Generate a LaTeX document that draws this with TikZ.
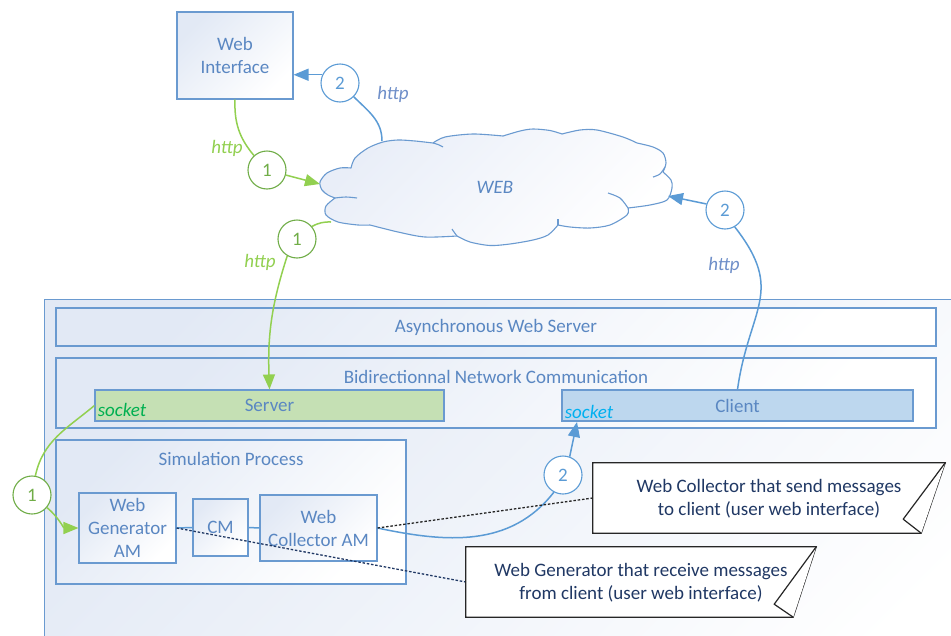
\documentclass[tikz,border=0pt]{standalone}
\usepackage{fontspec}
\setmainfont{Carlito}
\usetikzlibrary{arrows.meta,calc}
\definecolor{bord}{HTML}{6A9AD0}
\definecolor{gradc}{HTML}{E2E9F5}
\definecolor{gradl}{HTML}{E9EEF8}
\definecolor{txtb}{HTML}{5A87C2}
\definecolor{cB}{HTML}{5B9BD5}
\definecolor{cG}{HTML}{92D050}
\definecolor{cGc}{HTML}{70AD47}
\definecolor{cBl}{HTML}{6F8FC9}
\definecolor{srvc}{HTML}{C5E0B4}
\definecolor{clic}{HTML}{BDD7EE}
\definecolor{sockg}{HTML}{00B050}
\definecolor{sockb}{HTML}{00B0F0}
\definecolor{navy}{HTML}{203864}
\begin{document}
\begin{tikzpicture}[x=1pt,y=-1pt,
  every node/.style={font=\fontsize{19}{23}\selectfont},
  box/.style={draw=bord, line width=1.1pt, top color=gradc, bottom color=white, shading angle=45, inner sep=0pt, text=txtb, align=center},
  flat/.style={draw=bord, line width=1.1pt, inner sep=0pt, text=txtb},
  ttl/.style={text=txtb, inner sep=0pt},
  num/.style={circle, minimum size=38pt, inner sep=0pt, line width=1.1pt, fill=white},
  gnum/.style={num, draw=cGc, text=cGc},
  bnum/.style={num, draw=cB, text=cB},
  lab/.style={font=\fontsize{19}{23}\selectfont\itshape, inner sep=0pt},
  gl/.style={draw=cG, line width=1.5pt},
  bl/.style={draw=cB, line width=1.5pt},
  tip/.style={-{Triangle[length=15pt,width=12pt]}},
  cloudline/.style={draw=bord, line width=1.1pt, line join=round},
  callbox/.style={draw=black!85, line width=1.2pt, fill=white},
  calltext/.style={text=navy, align=center, inner sep=0pt}
]
\useasboundingbox (0,0) rectangle (951,635);
\clip (0,0) rectangle (951,635);
\fill[white] (0,0) rectangle (951,635);

% outer container
\node[box, minimum width=960, minimum height=420, anchor=north west] (outer) at (44,299) {};
\node[box, minimum width=880, minimum height=38] (async) at (496,327) {Asynchronous Web Server};
\node[box, minimum width=880, minimum height=70] (bidir) at (496,393) {};
\node[ttl] (bidirt) at (496,377) {Bidirectionnal Network Communication};
\node[flat, fill=srvc, minimum width=349, minimum height=31] (srv) at (269.5,405.5) {Server};
\node[flat, fill=clic, minimum width=351, minimum height=31] (cli) at (737.5,405.5) {Client};
\node[lab, text=sockg] (sk1) at (122,410) {socket};
\node[lab, text=sockb] (sk2) at (589,412) {socket};
\node[box, minimum width=350, minimum height=144] (sim) at (231,512) {};
\node[ttl] (simt) at (231,459) {Simulation Process};
\node[box, minimum width=97, minimum height=70] (gen) at (127.5,528) {Web\\Generator\\AM};
\node[box, minimum width=55, minimum height=57] (cm) at (220.5,527.5) {CM};
\node[box, minimum width=117, minimum height=66] (coll) at (318.5,528) {Web\\Collector AM};

% top
\node[box, minimum width=116, minimum height=87] (wi) at (235,55.5) {Web\\Interface};

% cloud
\path[cloudline, top color=gradl, bottom color=white, shading angle=45]
  plot[smooth] coordinates {(335,198)(328,195)(322,190)(320,182)(327,173)(340,168)(351,168)}
  --plot[smooth] coordinates {(351,168)(355,158)(368,148)(383,142)(398,140)(415,141)(433,143)}
  --plot[smooth] coordinates {(433,143)(445,137)(473,134)(503,136)}
  --plot[smooth] coordinates {(503,136)(520,131)(533,129)(550,130.5)(562,134)}
  --plot[smooth] coordinates {(562,134)(580,130)(597,130)(623,137)(637,143)}
  --plot[smooth] coordinates {(637,143)(653,147)(663,153)(666,163)(663,172)}
  --plot[smooth] coordinates {(663,172)(671,180)(672,188)(667,200)(650,205)(628,208)}
  --plot[smooth] coordinates {(628,208)(627,215)(610,225)(590,228)(570,227)(558,225)}
  --plot[smooth] coordinates {(558,225)(548,235)(533,240)(510,244)(490,245.5)(470,242)(457,236)}
  --plot[smooth] coordinates {(457,236)(425,237)(398,232)(370,225)}
  --plot[smooth] coordinates {(370,225)(358,225)(338,222)(326,215)(326,206)(335,198)}
  -- cycle;
\draw[cloudline] plot[smooth] coordinates {(433,143)(438,144.5)(443,147)};
\draw[cloudline] plot[smooth] coordinates {(335,198)(346,197)(357,198)};
\draw[cloudline] plot[smooth] coordinates {(457,236)(454,232)(452,229)};
\draw[cloudline] plot[smooth] coordinates {(558,225)(558,222)(558,219)};
\draw[cloudline] plot[smooth] coordinates {(628,208)(620,198)(608,193)};
\draw[cloudline] plot[smooth] coordinates {(665,167)(660,174)(653,177)};
\node[text=txtb, inner sep=0pt, font=\fontsize{19}{23}\selectfont\itshape] (web) at (495,187) {WEB};

\coordinate (webtop) at (382,141);
\coordinate (webL) at (320,184);
\coordinate (webLL) at (331,222);
\coordinate (webR) at (668,196);
\coordinate (clisock) at (577,422);

\node[bnum] (c2a) at (340,83) {2};
\node[gnum] (g1a) at (267,170) {1};
\node[gnum] (g1b) at (297,239) {1};
\node[bnum] (c2b) at (725,210) {2};
\node[gnum] (g1c) at (32,495) {1};
\node[bnum] (c2c) at (563,475) {2};

% labels
\node[lab, text=cG] (h1) at (227,148) {http};
\node[lab, text=cBl] (h2) at (393,94) {http};
\node[lab, text=cG] (h3) at (260,262) {http};
\node[lab, text=cBl] (h4) at (724,265) {http};

% connectors
\draw[bl, tip] (c2a.155) -- (wi.east |- c2a.155);
\draw[bl] (c2a.-45) to[out=-45,in=90] (webtop);
\draw[gl] (wi.south) to[out=-92,in=130] (g1a.132);
\draw[gl, tip] (g1a.-15) -- (webL);
\draw[bl, tip] (c2b.162) -- (webR);
\draw[bl] (c2b.-60) to[out=-52,in=82,looseness=1.3] (cli.north);
\draw[gl] (webLL) to[bend right=15] (g1b.40);
\draw[gl, tip] (g1b.240) to[out=-108,in=92] (srv.north);
\draw[gl] (srv.west) to[out=-140,in=78] (g1c.80);
\draw[gl, tip] (g1c.-40) to[out=-40,in=180] (gen.west);
\draw[bl, tip] (c2c.70) -- (clisock);
\draw[bl] (coll.east) to[out=-12,in=-128] (c2c.-118);
\draw[bl] (gen.east) -- (cm.west);
\draw[bl] (cm.east) -- (coll.west);

% callouts
\node[minimum width=352, minimum height=70, inner sep=0pt] (co1) at (769,498) {};
\node[minimum width=350, minimum height=70, inner sep=0pt] (co2) at (641,582) {};
\draw[black!85, line width=1.3pt, dash pattern=on 2.5pt off 1.8pt] (coll.east) -- (co1.west);
\draw[navy, line width=1.3pt, dash pattern=on 2.5pt off 1.8pt] (gen.east) -- (co2.west);
\draw[callbox] (co1.north west) -- (co1.north east) -- ($(co1.south east)+(-24,0)$) -- (co1.south west) -- cycle;
\draw[callbox, line join=round] (co1.north east) -- ($(co1.south east)+(-42,-14)$) -- ($(co1.south east)+(-24,0)$);
\draw[callbox] (co2.north west) -- (co2.north east) -- ($(co2.south east)+(-23,0)$) -- (co2.south west) -- cycle;
\draw[callbox, line join=round] (co2.north east) -- ($(co2.south east)+(-42,-13)$) -- ($(co2.south east)+(-23,0)$);
\node[calltext] (co1t) at (769,499) {Web Collector that send messages\\to client (user web interface)};
\node[calltext] (co2t) at (641,583) {Web Generator that receive messages\\from client (user web interface)};
\end{tikzpicture}
\end{document}
